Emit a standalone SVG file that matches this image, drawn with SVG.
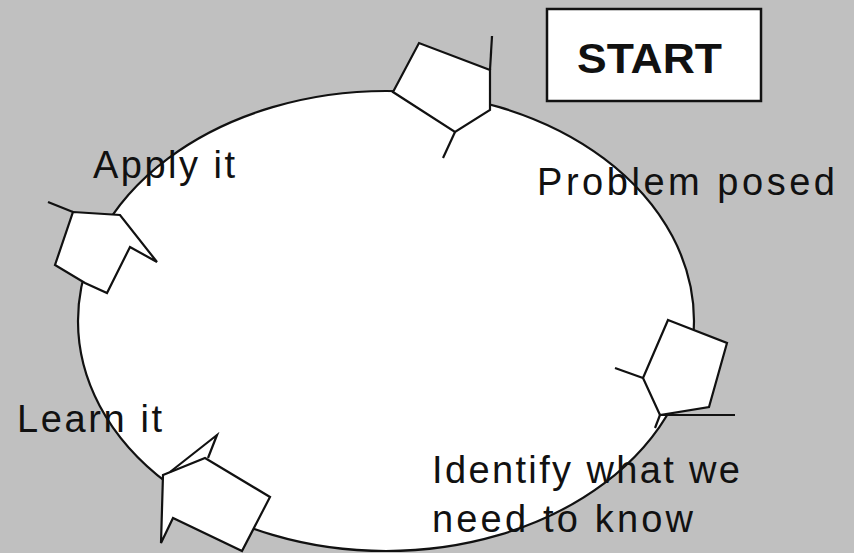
<svg xmlns="http://www.w3.org/2000/svg" width="854" height="553" viewBox="0 0 854 553">
<style>
.bg{fill:#c0c0c0}
.cyc{fill:#ffffff;stroke:#111;stroke-width:2.2}
.arr{fill:#ffffff;stroke:#111;stroke-width:2.2;stroke-linejoin:miter}
.ln{fill:none;stroke:#111;stroke-width:2.2}
.lbl{font-family:"Liberation Sans",Arial,sans-serif;font-size:38px;fill:#111}
.box{fill:#ffffff;stroke:#111;stroke-width:2.5}
.st{font-family:"Liberation Sans",Arial,sans-serif;font-size:43px;font-weight:bold;fill:#111}
</style>
<rect class="bg" x="0" y="0" width="854" height="553"/>
<g id="cycle">
<ellipse class="cyc" cx="386" cy="321" rx="308" ry="230"/>
</g>
<g id="connectors">
<g id="arrow-top">
<polygon class="arr" points="393,92 419,43 490,70 490,110 455,132"/>
<polyline class="ln" points="490,70 492,36"/>
<polyline class="ln" points="455,132 443,158"/>
</g>
<g id="arrow-right">
<polygon class="arr" points="668,320 727,343 709,407 660,415 643,378"/>
<polyline class="ln" points="643,378 615,368"/>
<polyline class="ln" points="660,415 735,415"/>
<polyline class="ln" points="660,415 655,428"/>
</g>
<g id="arrow-bottom">
<polygon class="arr" points="163,475 205,458 270,497 242,551 173,518 161,543"/>
<polyline class="ln" points="170,472 217,435 208,458"/>
</g>
<g id="arrow-left">
<polygon class="arr" points="73,212 120,215 157,262 130,247 107,293 85,283 55,265"/>
<polyline class="ln" points="48,202 73,212"/>
</g>
</g>
<g id="start">
<rect class="box" x="547" y="9" width="214" height="92"/>
<text class="st" x="577" y="73" textLength="145" lengthAdjust="spacingAndGlyphs">START</text>
</g>
<g id="problem-posed">
<text class="lbl" x="537" y="195" textLength="298" lengthAdjust="spacing">Problem  posed</text>
</g>
<g id="identify">
<text class="lbl" x="432" y="483" textLength="308" lengthAdjust="spacing">Identify what we</text>
<text class="lbl" x="432" y="532" textLength="261" lengthAdjust="spacing">need to know</text>
</g>
<g id="learn-it">
<text class="lbl" x="17" y="432" textLength="145" lengthAdjust="spacing">Learn it</text>
</g>
<g id="apply-it">
<text class="lbl" x="93" y="178" textLength="142" lengthAdjust="spacing">Apply it</text>
</g>
</svg>
